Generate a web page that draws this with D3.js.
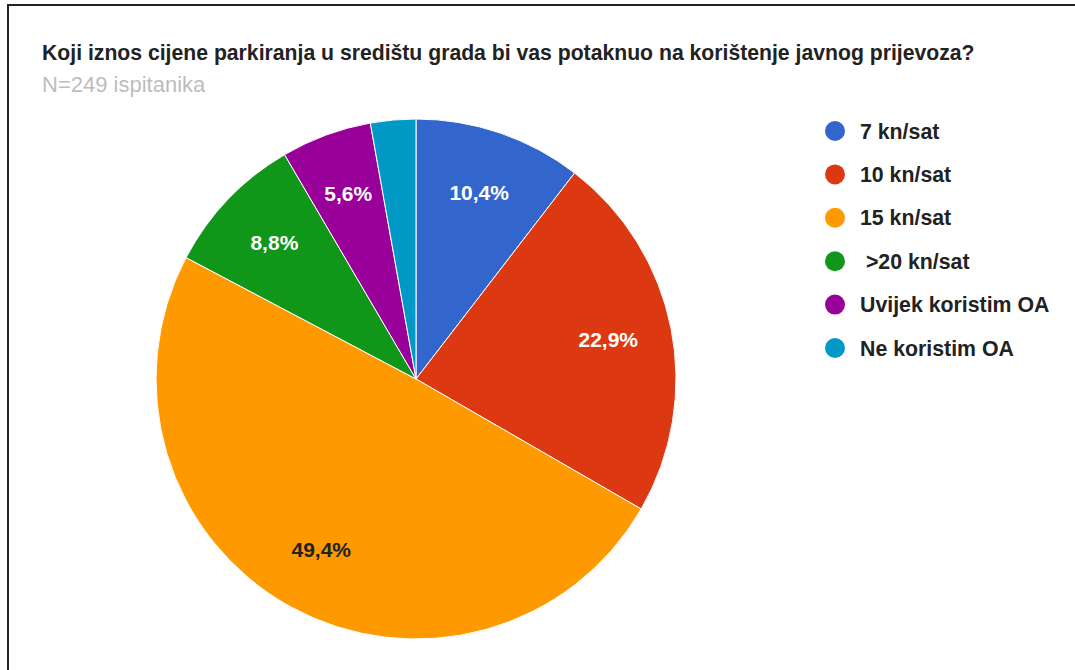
<!DOCTYPE html>
<html>
<head>
<meta charset="utf-8">
<script src="https://cdn.jsdelivr.net/npm/d3@7"></script>
<style>
  body { margin: 0; background: #fff; }
  text { font-family: "Liberation Sans", Arial, sans-serif; }
</style>
</head>
<body>
<div class="chart"></div>
<script>
var svgWidth = 1075;
var svgHeight = 670;

// data (N = 249 respondents)
var categories = ["7 kn/sat", "10 kn/sat", "15 kn/sat", " >20 kn/sat", "Uvijek koristim OA", "Ne koristim OA"];
var counts = [26, 57, 123, 22, 14, 7];
var colors = ["#3366cc", "#dc3912", "#ff9900", "#109618", "#990099", "#0099c6"];

var title = "Koji iznos cijene parkiranja u središtu grada bi vas potaknuo na korištenje javnog prijevoza?";
var subtitle = "N=249 ispitanika";

var cx = 416, cy = 379, radius = 260;

var svg = d3.select(".chart")
  .append("svg")
  .attr("width", svgWidth)
  .attr("height", svgHeight);

// frame (only top and left edges are visible)
svg.append("line")
  .attr("x1", 8).attr("x2", svgWidth).attr("y1", 5).attr("y2", 5)
  .attr("stroke", "#222").attr("stroke-width", 2);
svg.append("line")
  .attr("x1", 8).attr("x2", 8).attr("y1", 4).attr("y2", svgHeight)
  .attr("stroke", "#222").attr("stroke-width", 2);

svg.append("text")
  .attr("x", 42).attr("y", 60)
  .attr("font-size", 21.2)
  .attr("font-weight", "bold")
  .attr("fill", "#222")
  .text(title);

svg.append("text")
  .attr("x", 42).attr("y", 92)
  .attr("font-size", 22)
  .attr("fill", "#bdbdbd")
  .text(subtitle);

var total = d3.sum(counts);
var pie = d3.pie().sort(null).value(function(d) { return d; });
var arc = d3.arc().innerRadius(0).outerRadius(radius);
var labelArc = d3.arc().innerRadius(196).outerRadius(196);

var color = d3.scaleOrdinal().domain(d3.range(counts.length)).range(colors);

var chart = svg.append("g")
  .attr("transform", "translate(" + cx + "," + cy + ")");

var slices = chart.selectAll("g.slice")
  .data(pie(counts))
  .enter()
  .append("g")
  .attr("class", "slice");

slices.append("path")
  .attr("d", arc)
  .attr("fill", function(d, i) { return color(i); })
  .attr("stroke", "#fff")
  .attr("stroke-width", 1);

slices.filter(function(d) { return d.value / total > 0.04; })
  .append("text")
  .attr("transform", function(d) { return "translate(" + labelArc.centroid(d) + ")"; })
  .attr("text-anchor", "middle")
  .attr("dy", "0.3em")
  .attr("font-size", 21)
  .attr("font-weight", "bold")
  .attr("fill", function(d, i) { return i == 2 ? "#222" : "#fff"; })
  .text(function(d) {
    return (d.value / total * 100).toFixed(1).replace(".", ",") + "%";
  });

// legend
var legend = svg.append("g")
  .attr("transform", "translate(835,131)");

var item = legend.selectAll("g")
  .data(categories)
  .enter()
  .append("g")
  .attr("transform", function(d, i) { return "translate(0," + (i * 43.4) + ")"; });

item.append("circle")
  .attr("r", 10)
  .attr("fill", function(d, i) { return color(i); });

item.append("text")
  .attr("x", 25)
  .attr("dy", "0.36em")
  .attr("font-size", 21.3)
  .attr("font-weight", "bold")
  .attr("fill", "#222")
  .attr("xml:space", "preserve")
  .style("white-space", "pre")
  .text(function(d) { return d; });
</script>
</body>
</html>
